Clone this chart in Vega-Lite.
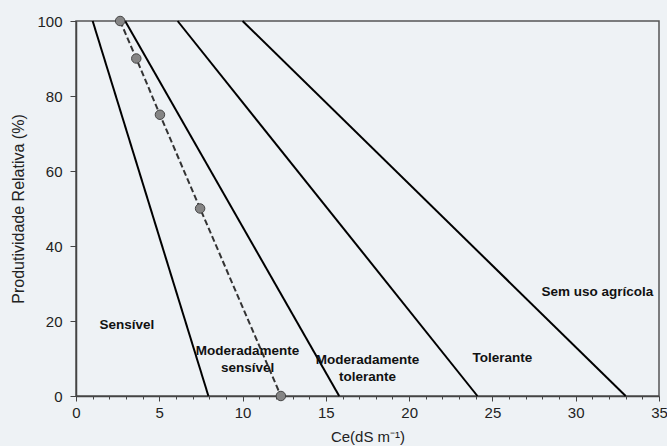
{
  "$schema": "https://vega.github.io/schema/vega-lite/v6.json",
  "width": 583,
  "height": 375,
  "autosize": {"type": "none"},
  "padding": {"left": 76, "top": 21, "right": 8, "bottom": 50},
  "background": "#eef2f5",
  "config": {
    "view": {"stroke": "#555", "strokeWidth": 1.5},
    "font": "Liberation Sans",
    "axis": {"labelFont": "Liberation Sans", "titleFont": "Liberation Sans", "labelColor": "#222", "titleColor": "#222", "domainColor": "#444", "tickColor": "#444", "grid": false, "titleFontWeight": "normal", "labelFlush": false}
  },
  "datasets": {
    "lines": [
      {"serie": "A", "ce": 1.0, "prod": 100},
      {"serie": "A", "ce": 7.95, "prod": 0},
      {"serie": "B", "ce": 2.95, "prod": 100},
      {"serie": "B", "ce": 15.8, "prod": 0},
      {"serie": "C", "ce": 6.1, "prod": 100},
      {"serie": "C", "ce": 24.1, "prod": 0},
      {"serie": "D", "ce": 10.0, "prod": 100},
      {"serie": "D", "ce": 33.0, "prod": 0}
    ],
    "obs": [
      {"ce": 2.65, "prod": 100},
      {"ce": 3.62, "prod": 90},
      {"ce": 5.04, "prod": 75},
      {"ce": 7.45, "prod": 50},
      {"ce": 12.3, "prod": 0}
    ],
    "labels": [
      {"ce": 3.05, "prod": 19.0, "txt": "Sensível"},
      {"ce": 10.3, "prod": 12.0, "txt": "Moderadamente\nsensível"},
      {"ce": 17.5, "prod": 9.6, "txt": "Moderadamente\ntolerante"},
      {"ce": 25.6, "prod": 10.1, "txt": "Tolerante"},
      {"ce": 31.3, "prod": 27.7, "txt": "Sem uso agrícola"}
    ]
  },
  "encoding": {
    "x": {
      "field": "ce", "type": "quantitative",
      "scale": {"domain": [0, 35], "nice": false, "zero": false},
      "axis": {
        "title": "Ce(dS m⁻¹)",
        "titleFontSize": 15,
        "titlePadding": 9,
        "labelFontSize": 15,
        "labelPadding": 4,
        "labelFlush": false,
        "values": [0,1,2,3,4,5,6,7,8,9,10,11,12,13,14,15,16,17,18,19,20,21,22,23,24,25,26,27,28,29,30,31,32,33,34,35],
        "labelExpr": "datum.value % 5 === 0 ? datum.label : ''",
        "tickSize": {"condition": {"test": "datum.value % 5 === 0", "value": 5}, "value": 3},
        "domainWidth": 1.5
      }
    },
    "y": {
      "field": "prod", "type": "quantitative",
      "scale": {"domain": [0, 100], "nice": false},
      "axis": {
        "title": "Produtividade Relativa (%)",
        "titleFontSize": 16,
        "titlePadding": 10,
        "labelFontSize": 15,
        "labelPadding": 8,
        "labelFlush": false,
        "values": [0, 20, 40, 60, 80, 100],
        "tickSize": 6,
        "domainWidth": 1.5
      }
    }
  },
  "layer": [
    {
      "data": {"name": "lines"},
      "mark": {"type": "line", "color": "#000", "strokeWidth": 2},
      "encoding": {"detail": {"field": "serie"}}
    },
    {
      "data": {"name": "obs"},
      "mark": {"type": "line", "color": "#333", "strokeWidth": 2, "strokeDash": [6, 3]},
      "encoding": {}
    },
    {
      "data": {"name": "obs"},
      "mark": {"type": "point", "filled": true, "fill": "#858585", "stroke": "#444", "strokeWidth": 1, "size": 90, "opacity": 1},
      "encoding": {}
    },
    {
      "data": {"name": "labels"},
      "mark": {"type": "text", "font": "Liberation Sans", "fontWeight": "bold", "fontSize": 13.5, "color": "#111", "lineBreak": "\n", "lineHeight": 17, "align": "center", "baseline": "middle"},
      "encoding": {"text": {"field": "txt"}}
    }
  ]
}
